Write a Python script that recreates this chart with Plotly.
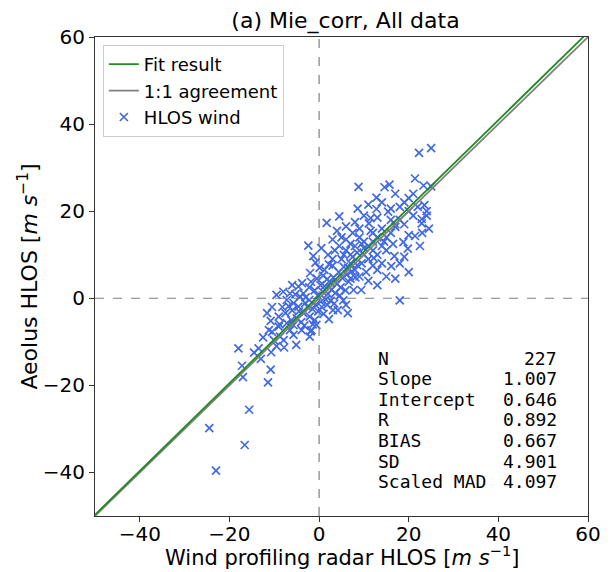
import plotly.graph_objects as go

# ---------------- data ----------------
radar_hlos_outliers = [-24.5, -23.0, -16.6, -15.6, -18.0, -17.2, -17.0, -11.4, -10.8, -13.5,
                       -13.0, -10.7, -11.6, -10.8, -11.2, -10.5, -9.0, -10.1, -7.9, -7.8,
                       -5.7, -5.1, -5.7, -3.9, -2.1, -1.9, -1.0, 2.2, 3.1, -0.6,
                       -1.7, 4.2, 6.0, 6.4, -12.5, -14.5, -9.5]
aeolus_hlos_outliers = [-29.8, -39.6, -33.7, -25.6, -11.5, -15.5, -18.1, -19.3, -16.4, -11.5,
                        -13.9, -12.4, -3.4, -5.2, -7.3, -7.7, -6.5, -9.6, -9.6, -11.3,
                        -8.4, -10.7, -6.2, -7.3, -8.8, -7.6, -5.0, -4.8, -2.7, -6.1,
                        -7.3, -2.7, -1.5, -3.4, -9.0, -12.5, -11.0]

radar_hlos_core = [-7.2, -6.5, -5.7, -4.6, -4.6, -3.5, -3.1, -2.2, -2.2, -3.5,
                   -2.1, -5.0, -7.2, -6.5, -8.7, -7.5, -9.0, -8.2, -6.0, -4.0,
                   -1.5, -0.8, -0.3, 0.4, 0.8, 1.2, 1.5, 2.0, 2.5, -1.0,
                   -1.8, -0.5, 0.3, 0.9, 1.8, 2.8, 3.2, 3.6, 4.0, 4.4,
                   4.8, 5.2, 5.5, 5.9, 6.2, 6.6, 7.0, 7.3, 7.7, 8.1,
                   8.5, 9.4, -3.0, -2.6, -4.2, -5.3, -6.8, -0.2, 0.6, 1.0,
                   1.8, 2.6, 3.4, 4.6, 5.4, -1.4, -3.3, -4.5, -2.0, -3.8,
                   -6.0, -8.0, -9.5, -10.5, -8.8, -6.2, 0.1, -0.8, 1.2, 2.2,
                   3.0, 0.5]
aeolus_hlos_core = [-0.4, 1.1, -1.1, 2.7, -1.9, 1.1, -1.1, 2.5, -0.4, -3.4,
                    -4.2, -4.6, -5.7, -7.3, -8.8, -3.4, -4.2, -2.0, -2.8, -5.5,
                    -2.5, -1.5, 0.6, -0.8, 1.5, 2.8, -0.3, 1.0, 3.6, 1.8,
                    3.8, 4.5, 3.0, 5.2, 4.4, 2.0, 4.8, 1.2, 3.3, 6.0,
                    2.5, 4.6, 7.2, 1.8, 5.5, 3.8, 8.0, 6.2, 1.9, 4.8,
                    7.6, 1.9, 0.2, -2.0, 0.4, 0.9, -1.8, -3.0, -2.0, -3.6,
                    -1.5, -0.6, -1.2, 0.6, -0.5, -6.0, -6.3, -3.0, 5.8, 3.5,
                    3.0, 1.5, 0.8, -2.0, -6.0, -5.0, 7.0, 8.2, 6.5, 7.8,
                    9.0, 11.5]

radar_hlos_upper = [4.5, 1.7, -2.4, -1.3, 8.8, 15.7, 21.4, 12.8, 8.6, 12.8,
                    15.4, 16.0, 11.5, 11.1, 17.0, 21.4, 22.9, 22.9, 23.5, 23.3,
                    19.8, 18.8, 16.8, 16.1, 22.3, 25.0, 14.6, 25.0]
aeolus_hlos_upper = [18.8, 17.3, 12.1, 9.7, 25.6, 26.1, 27.5, 23.1, 20.6, 20.5,
                     19.9, 20.6, 18.4, 17.2, 16.4, 14.3, 18.2, 17.2, 21.4, 25.9,
                     11.4, 12.9, 9.7, 7.4, 33.4, 34.5, 25.5, 25.7]

radar_hlos_band = [5.0, 6.0, 7.0, 8.0, 9.0, 10.0, 11.0, 12.0, 13.0, 14.0,
                   6.0, 7.5, 9.0, 10.0, 11.0, 12.0, 13.0, 14.0, 15.0, 16.0,
                   17.0, 18.0, 19.0, 20.0, 21.0, 22.0, 20.0, 18.0, 16.0, 15.0,
                   14.0, 13.0, 12.0, 10.5, 9.5, 8.5, 7.5, 6.5, 5.5, 4.5,
                   3.5, 3.0, 4.0, 6.0, 8.0, 10.0, 11.0, 13.0, 14.0, 17.0,
                   19.0, 21.0, 24.0, 24.0, 23.0, 20.0, 18.0, 17.0, 15.0, 18.0,
                   13.0, 11.0, 20.0, 19.0, 22.5, 24.5, 9.0, 8.0, 7.0, 10.0,
                   12.0, 14.5, 11.5, 9.5, 7.0, 5.0, 3.0, 2.0, 16.5, 12.2]
aeolus_hlos_band = [9.0, 11.0, 10.0, 12.0, 14.0, 13.0, 12.0, 15.0, 14.0, 16.0,
                    13.5, 15.0, 16.0, 10.0, 9.0, 11.0, 10.0, 12.0, 14.0, 15.0,
                    17.0, 18.0, 17.0, 20.0, 19.0, 21.0, 23.0, 21.0, 18.0, 11.0,
                    8.0, 6.5, 7.5, 6.0, 8.0, 10.5, 9.5, 7.0, 10.0, 12.0,
                    11.0, 13.5, 15.5, 16.5, 17.5, 19.0, 21.5, 18.5, 22.0, 24.0,
                    22.0, 24.0, 20.0, 19.0, 15.0, 14.5, 8.0, 4.5, 5.0, -0.5,
                    3.0, 4.0, 6.0, 9.5, 12.0, 16.0, 5.0, 6.5, 4.5, 11.5,
                    13.0, 13.0, 15.5, 12.5, 12.5, 14.0, 7.5, 10.0, 12.5, 9.2]

radar_hlos = radar_hlos_outliers + radar_hlos_core + radar_hlos_upper + radar_hlos_band
aeolus_hlos = aeolus_hlos_outliers + aeolus_hlos_core + aeolus_hlos_upper + aeolus_hlos_band

fit_slope = 1.007
fit_intercept = 0.646
axis_min, axis_max = -50, 60
tick_values = [-40, -20, 0, 20, 40, 60]

stat_labels = ["N", "Slope", "Intercept", "R", "BIAS", "SD", "Scaled MAD"]
stat_values = ["227", "1.007", "0.646", "0.892", "0.667", "4.901", "4.097"]

title_text = "(a) Mie_corr, All data"
xlabel_text = "Wind profiling radar HLOS [<i>m s</i><sup>−1</sup>]"
ylabel_text = "Aeolus HLOS [<i>m s</i><sup>−1</sup>]"

# ---------------- layout geometry ----------------
# The page body adds an 8 px margin, so the figure is made 8 px smaller
# and all target pixel positions are shifted by 8 px.
OFF = 8
W, H = 613 - OFF, 572 - OFF
P_LEFT, P_RIGHT, P_TOP, P_BOTTOM = 95, 596, 37, 516  # target plot box (window px)
ML, MT = P_LEFT - OFF, P_TOP - OFF
PW, PH = P_RIGHT - P_LEFT, P_BOTTOM - P_TOP
MR, MB = W - ML - PW, H - MT - PH


def px_x(px):
    return (px - P_LEFT) / PW


def px_y(py):
    return (P_BOTTOM - py) / PH


fig = go.Figure()

fig.add_trace(go.Scatter(
    x=radar_hlos, y=aeolus_hlos, mode="markers", name="HLOS wind",
    marker=dict(symbol="x-thin", size=8, color="royalblue",
                line=dict(width=1.7, color="royalblue")),
    legendrank=3,
))

line_x = [axis_min, axis_max]
fig.add_trace(go.Scatter(
    x=line_x, y=line_x, mode="lines", name="1:1 agreement",
    line=dict(color="gray", width=1.8), legendrank=2,
))
fig.add_trace(go.Scatter(
    x=line_x, y=[fit_slope * v + fit_intercept for v in line_x], mode="lines",
    name="Fit result", line=dict(color="forestgreen", width=1.8), legendrank=1,
))

fig.add_hline(y=0, line=dict(color="gray", width=1.2, dash="dash"), layer="below")
fig.add_vline(x=0, line=dict(color="gray", width=1.2, dash="dash"), layer="below")

# statistics box
for i, (lab, val) in enumerate(zip(stat_labels, stat_values)):
    yp = px_y(358 + i * 20.6)
    fig.add_annotation(xref="paper", yref="paper", x=px_x(381), y=yp,
                       text=lab, showarrow=False, xanchor="left", yanchor="middle",
                       font=dict(family="DejaVu Sans Mono", size=18, color="black"))
    fig.add_annotation(xref="paper", yref="paper", x=px_x(567), y=yp,
                       text=val, showarrow=False, xanchor="right", yanchor="middle",
                       font=dict(family="DejaVu Sans Mono", size=18, color="black"))

# axis titles
fig.add_annotation(xref="paper", yref="paper", x=0.5, y=px_y(556),
                   text=xlabel_text, showarrow=False, xanchor="center", yanchor="middle",
                   font=dict(family="DejaVu Sans", size=21, color="black"))
fig.add_annotation(xref="paper", yref="paper", x=px_x(26), y=0.5, textangle=-90,
                   text=ylabel_text, showarrow=False, xanchor="center", yanchor="middle",
                   font=dict(family="DejaVu Sans", size=22, color="black"))

axis_common = dict(
    range=[axis_min, axis_max], tickvals=tick_values, ticks="outside", ticklen=5,
    tickwidth=1, tickcolor="#333", showline=True, linecolor="#333", linewidth=1,
    mirror=True, showgrid=False, zeroline=False,
    tickfont=dict(family="DejaVu Sans", size=20, color="black"),
)

fig.update_layout(
    width=W, height=H,
    margin=dict(l=ML, r=MR, t=MT, b=MB),
    paper_bgcolor="white", plot_bgcolor="white",
    font=dict(family="DejaVu Sans", color="black"),
    title=dict(text=title_text, x=(P_LEFT - OFF + PW / 2) / W, xanchor="center",
               y=1 - (20 - OFF) / H, yanchor="middle",
               font=dict(family="DejaVu Sans", size=22, color="black")),
    xaxis=dict(axis_common, ticklabelstandoff=-5),
    yaxis=axis_common,
    showlegend=True,
    legend=dict(x=px_x(103), y=px_y(45), xanchor="left", yanchor="top",
                bgcolor="rgba(255,255,255,0.8)", bordercolor="#ccc", borderwidth=1,
                font=dict(family="DejaVu Sans", size=18, color="black")),
)

fig.write_html("out.html")
